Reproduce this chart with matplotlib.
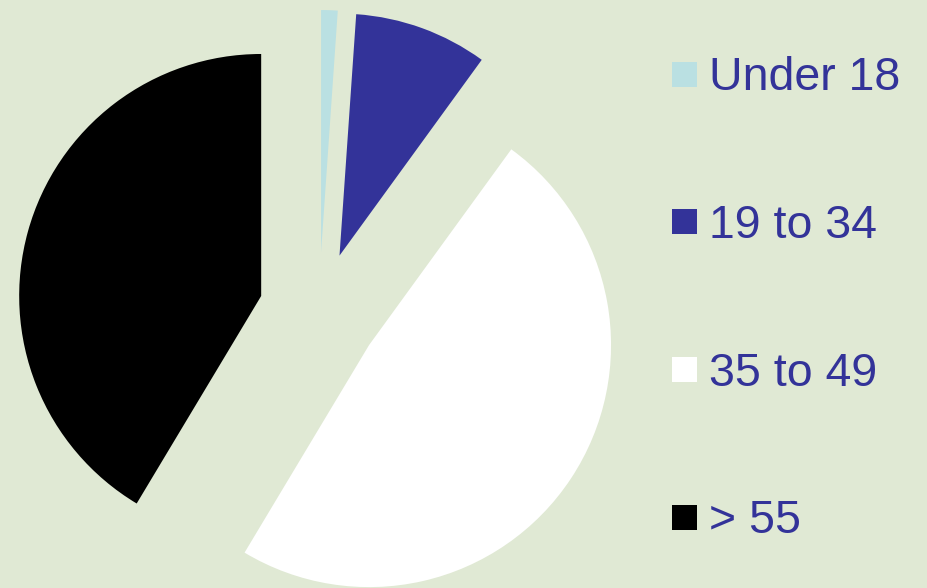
import matplotlib.pyplot as plt
from matplotlib.patches import Rectangle

# age group shares (percent)
labels = ['Under 18', '19 to 34', '35 to 49', '> 55']
shares = [1.1, 8.9, 48.6, 41.4]
colors = ['#BAE0E2', '#333399', '#FFFFFF', '#000000']

bg = '#E0E9D4'
text_color = '#333399'

W, H = 928, 588
fig = plt.figure(figsize=(W / 100, H / 100), dpi=100, facecolor=bg)
ax = fig.add_axes([0, 0, 1, 1])
ax.set_facecolor(bg)
ax.set_xlim(0, W)
ax.set_ylim(0, H)
ax.set_aspect('equal')
ax.axis('off')

# pie in pixel units: centre, radius and explode distance
wedges, _ = ax.pie(shares, colors=colors, startangle=90, counterclock=False,
                   center=(319, H - 312), radius=242,
                   explode=[60] * len(shares),
                   wedgeprops={'linewidth': 0, 'antialiased': True},
                   frame=True)
ax.set_xlim(0, W)
ax.set_ylim(0, H)
ax.axis('off')

# legend drawn by hand on the right
row_top = 74
row_gap = 147.8
for i, (lab, col) in enumerate(zip(labels, colors)):
    yc = H - (row_top + i * row_gap)
    ax.add_patch(Rectangle((672, yc - 12.5), 25, 25, facecolor=col,
                           edgecolor='none'))
    ax.text(709, yc - 16, lab, fontsize=33.5, color=text_color,
            family=['Liberation Sans', 'DejaVu Sans'], va='baseline', ha='left')

fig.savefig('out.png', dpi=100, facecolor=bg)
